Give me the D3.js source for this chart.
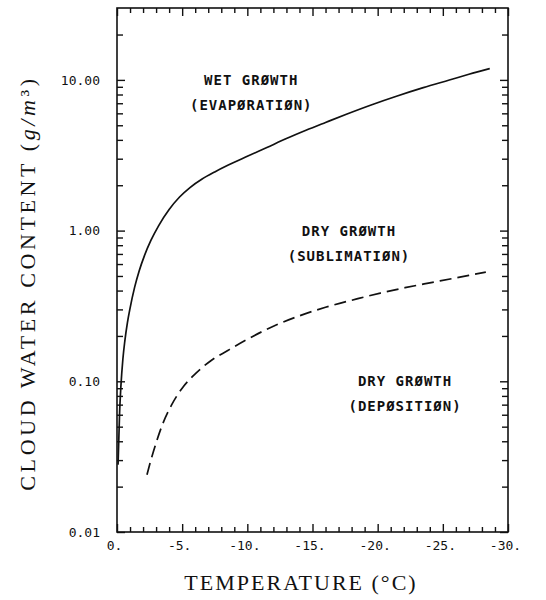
<!DOCTYPE html>
<html lang="en">
<head>
<meta charset="UTF-8">
<title>Cloud water content vs temperature</title>
<style>
  html, body { margin: 0; padding: 0; background: #fff; }
  svg { display: block; }
  .tick text { font-family: "DejaVu Sans Mono", monospace; font-size: 13px; fill: #111; }
  .tick line { stroke: #111; stroke-width: 1.4px; }
  .note { font-family: "DejaVu Sans Mono", monospace; font-size: 14px; font-weight: bold; letter-spacing: 1px; fill: #111; text-anchor: middle; }
  .title { font-family: "Liberation Serif", "Times New Roman", serif; font-size: 22px; letter-spacing: 2px; fill: #111; text-anchor: middle; }
</style>
<script src="https://d3js.org/d3.v7.min.js"></script>
</head>
<body>
<svg id="chart" width="546" height="600"></svg>
<script>
// wet / dry growth boundary (solid)
var wetTemp = [-0.08, -0.2, -0.3, -0.45, -0.6, -0.8, -1.0, -1.35, -1.7, -2.1, -2.6, -3.2, -4.0, -4.8, -5.6, -6.5, -7.5, -8.5, -10, -11.5, -13, -14.5, -16, -17.6, -19.5, -21.5, -23.5, -25.5, -27, -28.6];
var wetLwc  = [0.028, 0.062, 0.093, 0.14, 0.185, 0.245, 0.305, 0.42, 0.54, 0.68, 0.86, 1.08, 1.38, 1.67, 1.93, 2.19, 2.45, 2.71, 3.11, 3.56, 4.08, 4.63, 5.22, 5.92, 6.82, 7.82, 8.88, 9.98, 10.9, 11.9];

// sublimation / deposition boundary (dashed)
var dryTemp = [-2.3, -2.6, -3.0, -3.5, -4.2, -5.0, -6.0, -7.2, -8.5, -10, -12, -14, -16, -18.4, -20.2, -22.1, -24, -25.7, -27, -28.3];
var dryLwc  = [0.024, 0.030, 0.039, 0.052, 0.07, 0.09, 0.112, 0.137, 0.16, 0.19, 0.232, 0.272, 0.31, 0.352, 0.385, 0.418, 0.45, 0.48, 0.505, 0.53];

var xTicks = [0, -5, -10, -15, -20, -25, -30];
var xTickLabels = ["0.", "-5.", "-10.", "-15.", "-20.", "-25.", "-30."];
var yTicks = [0.01, 0.1, 1, 10];
var yTickLabels = ["0.01", "0.10", "1.00", "10.00"];

var noteLines = [["WET GRØWTH", "(EVAPØRATIØN)"], ["DRY GRØWTH", "(SUBLIMATIØN)"], ["DRY GRØWTH", "(DEPØSITIØN)"]];
var noteTemp = [-10.3, -17.8, -22.1];
var noteLwc = [10, 1, 0.1];

var svg = d3.select("#chart");
var plotLeft = 117, plotRight = 508, plotTop = 8, plotBottom = 532;

var x = d3.scaleLinear().domain([0, -30]).range([plotLeft, plotRight]);
var y = d3.scaleLog().domain([0.01, 30]).range([plotBottom, plotTop]);

var xMinor = x.ticks(30).filter(d => xTicks.indexOf(d) < 0);
var yMinor = y.ticks().filter(d => yTicks.indexOf(d) < 0 && d < 30);

function fmt(values, labels) {
    return d => labels[values.indexOf(d)];
}

// bottom
svg.append("g").attr("transform", "translate(0," + plotBottom + ")")
    .call(d3.axisBottom(x).tickValues(xTicks).tickSize(-8).tickPadding(9).tickFormat(fmt(xTicks, xTickLabels)))
    .call(g => g.selectAll("text").attr("dx", -3));
svg.append("g").attr("transform", "translate(0," + plotBottom + ")")
    .call(d3.axisBottom(x).tickValues(xMinor).tickSize(-5).tickFormat(""));
// top
svg.append("g").attr("transform", "translate(0," + plotTop + ")")
    .call(d3.axisTop(x).tickValues(xTicks).tickSize(-8).tickFormat(""));
svg.append("g").attr("transform", "translate(0," + plotTop + ")")
    .call(d3.axisTop(x).tickValues(xMinor).tickSize(-5).tickFormat(""));
// left
svg.append("g").attr("transform", "translate(" + plotLeft + ",0)")
    .call(d3.axisLeft(y).tickValues(yTicks).tickSize(-8).tickPadding(17).tickFormat(fmt(yTicks, yTickLabels)));
svg.append("g").attr("transform", "translate(" + plotLeft + ",0)")
    .call(d3.axisLeft(y).tickValues(yMinor).tickSize(-6).tickFormat(""));
// right
svg.append("g").attr("transform", "translate(" + plotRight + ",0)")
    .call(d3.axisRight(y).tickValues(yTicks).tickSize(-8).tickFormat(""));
svg.append("g").attr("transform", "translate(" + plotRight + ",0)")
    .call(d3.axisRight(y).tickValues(yMinor).tickSize(-6).tickFormat(""));

svg.selectAll(".domain").remove();

svg.append("rect")
    .attr("x", plotLeft).attr("y", plotTop)
    .attr("width", plotRight - plotLeft).attr("height", plotBottom - plotTop)
    .attr("fill", "none").attr("stroke", "#111").attr("stroke-width", 1.6);

var line = d3.line()
    .x(d => x(d[0]))
    .y(d => y(d[1]))
    .curve(d3.curveMonotoneX);

svg.append("path")
    .datum(d3.zip(wetTemp, wetLwc))
    .attr("d", line)
    .attr("fill", "none").attr("stroke", "#111").attr("stroke-width", 1.7);

svg.append("path")
    .datum(d3.zip(dryTemp, dryLwc))
    .attr("d", line)
    .attr("fill", "none").attr("stroke", "#111").attr("stroke-width", 1.7)
    .attr("stroke-dasharray", "12,6");

noteLines.forEach(function(lines, i) {
    var t = svg.append("text").attr("class", "note")
        .attr("x", x(noteTemp[i])).attr("y", y(noteLwc[i]) + 5);
    lines.forEach(function(s, j) {
        t.append("tspan").attr("x", x(noteTemp[i])).attr("dy", j === 0 ? 0 : 25).text(s);
    });
});

// axis titles
svg.append("text").attr("class", "title")
    .attr("x", 301).attr("y", 590)
    .text("TEMPERATURE (°C)");

var yt = svg.append("text").attr("class", "title")
    .style("letter-spacing", "3.6px")
    .attr("transform", "translate(35,283) rotate(-90)");
yt.append("tspan").text("CLOUD WATER CONTENT (");
yt.append("tspan").attr("font-style", "italic").text("g/m");
yt.append("tspan").text("³)");
</script>
</body>
</html>
